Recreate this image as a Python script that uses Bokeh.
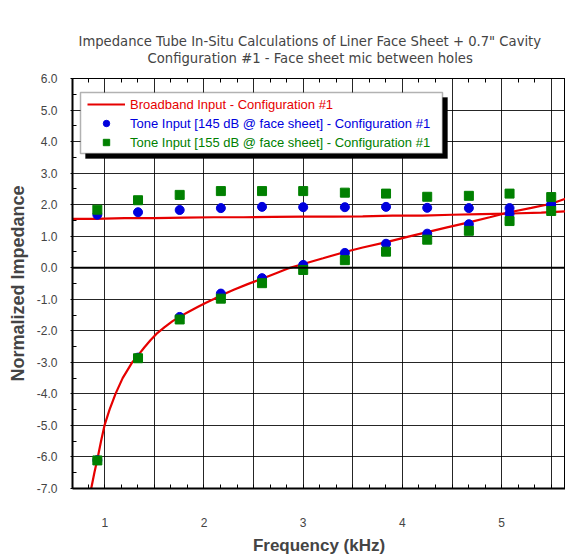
from bokeh.plotting import figure
from bokeh.models import (Range1d, FixedTicker, LinearAxis, Title, Span, Legend,
                          LegendItem, BoxAnnotation, PrintfTickFormatter,
                          CustomJSTickFormatter)
from bokeh.embed import file_html
from bokeh.resources import INLINE

# ---------------- data ----------------
freq_tone = [0.925, 1.335, 1.755, 2.170, 2.585, 3.000, 3.420, 3.835, 4.250, 4.670, 5.080, 5.500]
tone145_real = [1.68, 1.76, 1.83, 1.89, 1.93, 1.92, 1.92, 1.93, 1.90, 1.89, 1.89, 2.00]
tone145_imag = [-6.10, -2.85, -1.56, -0.82, -0.33, 0.09, 0.47, 0.76, 1.08, 1.38, 1.71, 2.00]
tone155_real = [1.84, 2.14, 2.31, 2.43, 2.43, 2.43, 2.38, 2.35, 2.25, 2.28, 2.35, 2.24]
tone155_imag = [-6.11, -2.87, -1.64, -0.98, -0.49, -0.07, 0.24, 0.51, 0.89, 1.17, 1.48, 1.80]

freq_bb_real = [0.675, 0.90, 1.20, 1.50, 1.80, 2.10, 2.40, 2.70, 3.00, 3.30, 3.60,
                3.90, 4.20, 4.50, 4.80, 5.10, 5.40, 5.644]
bb_real = [1.55, 1.55, 1.57, 1.57, 1.59, 1.60, 1.60, 1.61, 1.62, 1.62, 1.63,
           1.65, 1.65, 1.68, 1.70, 1.72, 1.75, 1.79]

freq_bb_imag = [0.845, 0.863, 0.895, 0.930, 0.962, 0.997, 1.048, 1.108, 1.180, 1.276,
                1.335, 1.400, 1.460, 1.520, 1.600, 1.680, 1.755, 1.860, 1.940, 2.020,
                2.100, 2.170, 2.300, 2.440, 2.585, 2.720, 2.840, 3.000, 3.200, 3.420,
                3.600, 3.840, 4.050, 4.250, 4.450, 4.670, 4.880, 5.080, 5.300, 5.500,
                5.644]
bb_imag = [-7.30, -7.00, -6.50, -6.00, -5.50, -5.00, -4.50, -4.00, -3.50, -3.00,
           -2.78, -2.52, -2.30, -2.10, -1.89, -1.70, -1.55, -1.37, -1.24, -1.11,
           -0.99, -0.88, -0.70, -0.52, -0.35, -0.18, -0.03, 0.12, 0.30, 0.50,
           0.64, 0.81, 0.98, 1.13, 1.28, 1.44, 1.60, 1.76, 1.90, 2.03,
           2.19]

x_major = [1.0, 1.5, 2.0, 2.5, 3.0, 3.5, 4.0, 4.5, 5.0, 5.5]
x_labels = {1.5: "", 2.5: "", 3.5: "", 4.5: "", 5.5: ""}
y_major = list(range(-7, 7))

title_1 = "Impedance Tube In-Situ Calculations of Liner Face Sheet + 0.7\" Cavity"
title_2 = "Configuration #1 - Face sheet mic between holes"
label_bb = "Broadband Input - Configuration #1"
label_145 = "Tone Input [145 dB @ face sheet] - Configuration #1"
label_155 = "Tone Input [155 dB @ face sheet] - Configuration #1"

RED = "#e60000"
BLUE = "#0000dd"
GREEN = "#008000"
FONT = "Liberation Sans"

x_minor = [round(0.5 + k / 6.0, 4) for k in range(0, 34) if k % 3 != 0]
y_minor = [v + 0.5 for v in range(-8, 7)]

p = figure(width=565, height=558, output_backend="svg", toolbar_location=None,
           x_range=Range1d(0.6745, 5.644), y_range=Range1d(-7, 6),
           min_border_left=72, min_border_top=78, min_border_right=0,
           min_border_bottom=70, title=None,
           x_axis_label="Frequency (kHz)", y_axis_label="Normalized Impedance")
p.background_fill_color = "white"
p.border_fill_color = "white"
p.outline_line_color = "black"
p.outline_line_width = 1

xt = FixedTicker(ticks=x_major, minor_ticks=x_minor)
yt = FixedTicker(ticks=y_major, minor_ticks=y_minor)

xa = p.xaxis[0]
xa.ticker = xt
xa.major_label_overrides = x_labels
xa.axis_line_width = 2
xa.major_tick_in = 4
xa.major_tick_out = 0
xa.minor_tick_in = 4
xa.minor_tick_out = 0
xa.major_label_standoff = 29
xa.major_label_text_font = FONT
xa.major_label_text_font_size = "12px"
xa.axis_label_text_font = FONT
xa.axis_label_text_font_size = "17px"
xa.axis_label_text_font_style = "bold"
xa.axis_label_standoff = 6

ya = p.yaxis[0]
ya.ticker = yt
ya.formatter = PrintfTickFormatter(format="%.1f")
ya.axis_line_width = 2
ya.major_tick_in = 0
ya.major_tick_out = 2
ya.minor_tick_in = 4
ya.minor_tick_out = 0
ya.major_label_standoff = 13
ya.major_label_text_font = FONT
ya.major_label_text_font_size = "12px"
ya.axis_label_text_font = FONT
ya.axis_label_text_font_size = "18px"
ya.axis_label_text_font_style = "bold"
ya.axis_label_standoff = 6

p.xgrid.ticker = xt
p.ygrid.ticker = yt
for g in (p.xgrid[0], p.ygrid[0]):
    g.grid_line_color = "black"
    g.grid_line_alpha = 0.85
    g.grid_line_width = 1

# top axis: inward minor ticks; invisible outward major ticks reserve the gap below the title
top_axis = LinearAxis(ticker=xt, formatter=CustomJSTickFormatter(code="return ''"),
                      major_tick_in=0, major_tick_out=13, minor_tick_in=4,
                      minor_tick_out=0, major_label_standoff=0, axis_line_width=1,
                      major_tick_line_color=None)
p.add_layout(top_axis, "above")

t2 = Title(text=title_2, align="left", offset=75, text_font="DejaVu Sans",
           text_font_size="13.2px", text_font_style="normal", standoff=0)
p.add_layout(t2, "above")
t1 = Title(text=title_1, align="left", offset=6, text_font="DejaVu Sans",
           text_font_size="13.2px", text_font_style="normal", standoff=0)
p.add_layout(t1, "above")

p.add_layout(Span(location=0, dimension="width", line_color="black", line_width=2))

r_bb1 = p.line(freq_bb_real, bb_real, line_color=RED, line_width=2.2)
r_bb2 = p.line(freq_bb_imag, bb_imag, line_color=RED, line_width=2.2)
r_b1 = p.scatter(freq_tone, tone145_real, marker="circle", size=9, fill_color=BLUE, line_color=BLUE)
r_b2 = p.scatter(freq_tone, tone145_imag, marker="circle", size=9, fill_color=BLUE, line_color=BLUE)
r_g1 = p.scatter(freq_tone, tone155_real, marker="square", size=9, fill_color=GREEN, line_color=GREEN)
r_g2 = p.scatter(freq_tone, tone155_imag, marker="square", size=9, fill_color=GREEN, line_color=GREEN)

# legend box + shadow (screen px from the frame's bottom-left corner)
shadow = BoxAnnotation(left=13, right=375, top=391, bottom=330, left_units="screen",
                       right_units="screen", top_units="screen", bottom_units="screen",
                       fill_color="black", fill_alpha=1, line_color="black")
box = BoxAnnotation(left=8, right=370, top=396, bottom=335, left_units="screen",
                    right_units="screen", top_units="screen", bottom_units="screen",
                    fill_color="white", fill_alpha=1, line_color="black", line_width=1.5)
p.add_layout(shadow)
p.add_layout(box)

def make_legend(label, renderer, color, yc):
    lg = Legend(items=[LegendItem(label=label, renderers=[renderer])],
                location=(15, 488 - yc - 8), orientation="vertical",
                background_fill_alpha=0, border_line_alpha=0, padding=0, margin=0,
                spacing=0, glyph_width=38, glyph_height=16, label_height=16,
                label_standoff=5, label_text_color=color, label_text_font=FONT,
                label_text_font_size="13px")
    p.add_layout(lg)

make_legend(label_bb, r_bb1, RED, 104)
make_legend(label_145, r_b1, BLUE, 123)
make_legend(label_155, r_g1, GREEN, 142)

open("out.html", "w").write(file_html(p, INLINE))
